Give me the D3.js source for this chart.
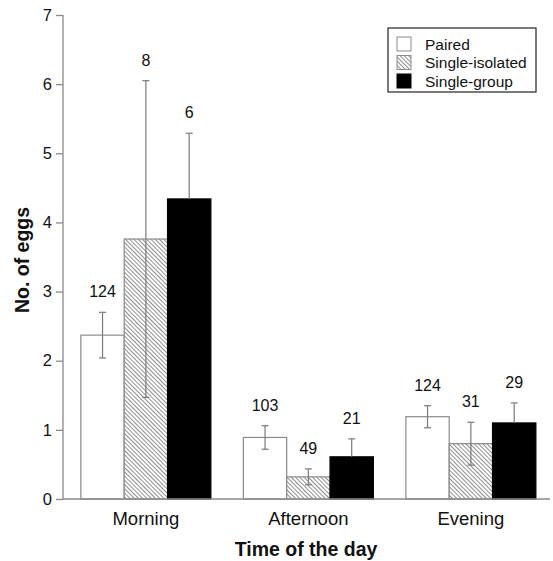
<html>
<head>
<meta charset="UTF-8">
<title>No. of eggs</title>
<style>
  body { margin: 0; background: #fff; }
  text { font-family: "Liberation Sans", Arial, sans-serif; }
</style>
</head>
<body>
<svg width="553" height="561"></svg>
<script src="https://cdn.jsdelivr.net/npm/d3@7"></script>
<script>
// data
var categories = ["Morning", "Afternoon", "Evening"];
var groups = ["Paired", "Single-isolated", "Single-group"];
var pairedMean = [2.37, 0.89, 1.19];
var isolatedMean = [3.76, 0.32, 0.80];
var groupMean = [4.34, 0.61, 1.10];
var pairedSE = [0.33, 0.17, 0.16];
var isolatedSE = [2.29, 0.115, 0.31];
var groupSE = [0.95, 0.26, 0.29];
var pairedN = [124, 103, 124];
var isolatedN = [8, 49, 31];
var groupN = [6, 21, 29];
var yTicks = [0, 1, 2, 3, 4, 5, 6, 7];

var means = [pairedMean, isolatedMean, groupMean];
var ses = [pairedSE, isolatedSE, groupSE];
var ns = [pairedN, isolatedN, groupN];

var svg = d3.select("svg");
var axisCol = "#8a8a8a";

// hatch pattern for single-isolated (lines run top-left to bottom-right)
var defs = svg.append("defs");
var pat = defs.append("pattern")
  .attr("id", "hatch")
  .attr("patternUnits", "userSpaceOnUse")
  .attr("width", 3).attr("height", 3)
  .attr("patternTransform", "rotate(-45)");
pat.append("rect").attr("width", 3).attr("height", 3).attr("fill", "#fff");
pat.append("line")
  .attr("x1", 0).attr("y1", 0).attr("x2", 0).attr("y2", 3)
  .attr("stroke", "#444").attr("stroke-width", 1.2);

var fills = ["#fff", "url(#hatch)", "#000"];
var strokes = ["#8a8a8a", "#8a8a8a", "#000"];

var y = d3.scaleLinear().domain([0, 7]).range([499, 15]);
var x0 = d3.scaleBand().domain(categories).range([63, 553.75])
  .paddingInner(0.2).paddingOuter(0.11);
var x1 = d3.scaleBand().domain(groups).range([0, x0.bandwidth()]).padding(0);

// rows of data
var rows = [];
categories.forEach(function(c, i) {
  groups.forEach(function(gname, j) {
    rows.push({cat: c, grp: gname, gi: j, mean: means[j][i], se: ses[j][i], n: ns[j][i]});
  });
});

var bars = svg.append("g");
bars.selectAll("rect")
  .data(rows)
  .enter()
  .append("rect")
  .attr("x", function(d) { return x0(d.cat) + x1(d.grp); })
  .attr("y", function(d) { return y(d.mean); })
  .attr("width", x1.bandwidth())
  .attr("height", function(d) { return y(0) - y(d.mean); })
  .attr("fill", function(d) { return fills[d.gi]; })
  .attr("stroke", function(d) { return strokes[d.gi]; })
  .attr("stroke-width", 1.2);

// error bars (black bars only show the upper half)
var eb = svg.append("g").attr("stroke", "#7a7a7a").attr("stroke-width", 1.2);
rows.forEach(function(d) {
  var cx = x0(d.cat) + x1(d.grp) + x1.bandwidth() / 2;
  var top = y(d.mean + d.se);
  var bot = d.gi == 2 ? y(d.mean) : y(d.mean - d.se);
  eb.append("line").attr("x1", cx).attr("x2", cx).attr("y1", top).attr("y2", bot);
  eb.append("line").attr("x1", cx - 3.5).attr("x2", cx + 3.5).attr("y1", top).attr("y2", top);
  if (d.gi != 2)
    eb.append("line").attr("x1", cx - 3.5).attr("x2", cx + 3.5).attr("y1", bot).attr("y2", bot);
});

// n labels
svg.append("g").selectAll("text")
  .data(rows)
  .enter()
  .append("text")
  .attr("x", function(d) { return x0(d.cat) + x1(d.grp) + x1.bandwidth() / 2; })
  .attr("y", function(d) { return y(d.mean + d.se) - 15; })
  .attr("text-anchor", "middle")
  .attr("font-size", "16px")
  .attr("fill", "#111")
  .text(function(d) { return d.n; });

// y axis
var yAxis = svg.append("g")
  .attr("transform", "translate(63,0)")
  .call(d3.axisLeft(y).tickValues(yTicks).tickFormat(d3.format("d")).tickSize(7).tickPadding(4));
yAxis.select(".domain").attr("stroke", axisCol).attr("stroke-width", 1.3).attr("d", "M0," + y(7) + "V" + y(0));
yAxis.selectAll(".tick line").attr("stroke", axisCol).attr("stroke-width", 1.3);
yAxis.selectAll(".tick text").attr("font-size", "16.5px").attr("fill", "#111")
  .attr("font-family", "Liberation Sans, Arial, sans-serif");

// x axis line
svg.append("line")
  .attr("x1", 63).attr("x2", 550)
  .attr("y1", y(0)).attr("y2", y(0))
  .attr("stroke", axisCol).attr("stroke-width", 1.3);

svg.append("g").selectAll("text")
  .data(categories)
  .enter()
  .append("text")
  .attr("x", function(d) { return x0(d) + x0.bandwidth() / 2; })
  .attr("y", 525)
  .attr("text-anchor", "middle")
  .attr("font-size", "18.5px")
  .attr("fill", "#111")
  .text(function(d) { return d; });

// axis titles
svg.append("text")
  .attr("x", 306).attr("y", 556)
  .attr("text-anchor", "middle")
  .attr("font-size", "19.5px").attr("font-weight", "bold")
  .attr("fill", "#111")
  .text("Time of the day");

svg.append("text")
  .attr("transform", "translate(29,260) rotate(-90)")
  .attr("text-anchor", "middle")
  .attr("font-size", "19.5px").attr("font-weight", "bold")
  .attr("fill", "#111")
  .text("No. of eggs");

// legend
var lg = svg.append("g");
lg.append("rect")
  .attr("x", 388).attr("y", 28).attr("width", 148).attr("height", 64)
  .attr("fill", "#fff").attr("stroke", "#222").attr("stroke-width", 1.2);
groups.forEach(function(gname, j) {
  var ry = 44 + j * 18.5;
  lg.append("rect")
    .attr("x", 397).attr("y", ry - 7).attr("width", 14).attr("height", 14)
    .attr("fill", fills[j]).attr("stroke", strokes[j]).attr("stroke-width", 1);
  lg.append("text")
    .attr("x", 425).attr("y", ry + 5.5)
    .attr("font-size", "15.5px").attr("fill", "#111")
    .text(gname);
});
</script>
</body>
</html>
